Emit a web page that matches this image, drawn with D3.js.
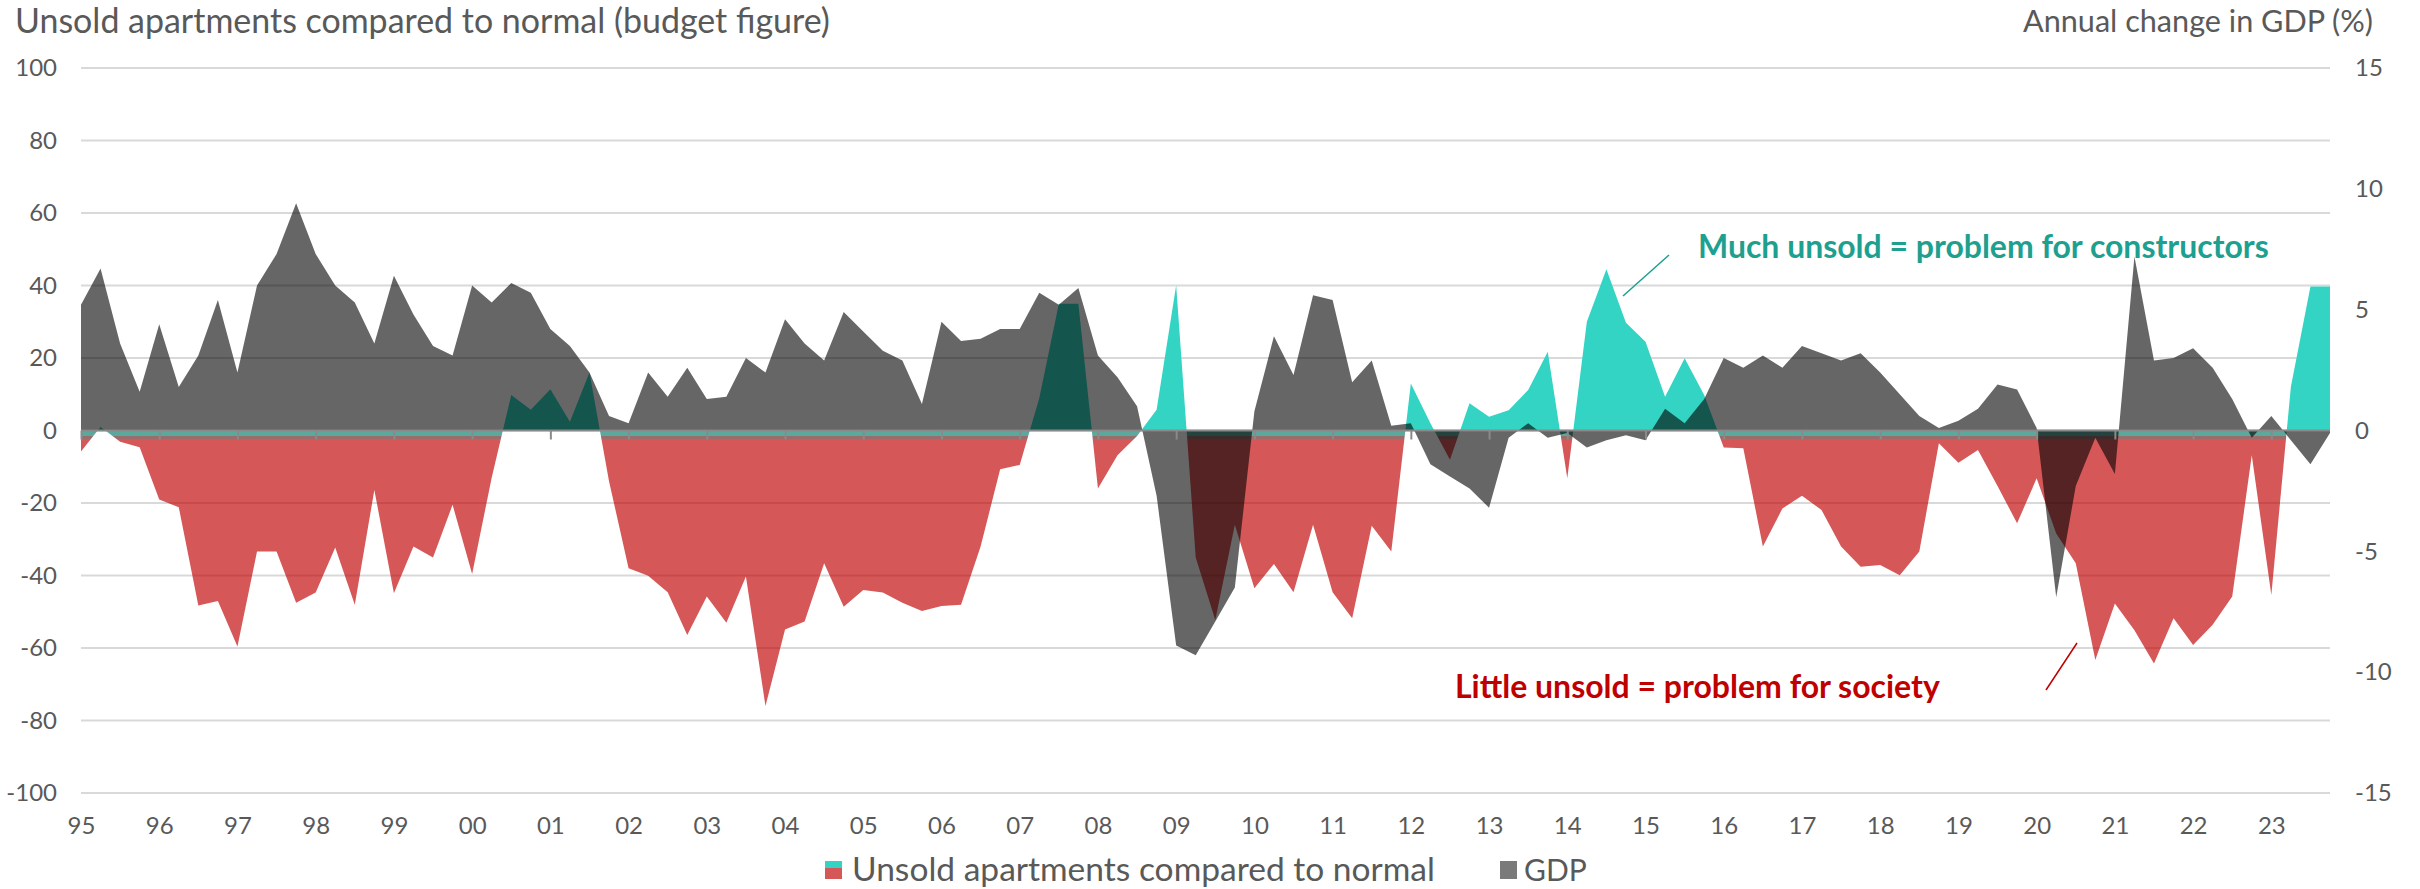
<!DOCTYPE html>
<html>
<head>
<meta charset="utf-8">
<script src="https://cdn.jsdelivr.net/npm/d3@7"></script>
<style>
  body { margin: 0; background: #fff; }
  svg text { font-family: Lato, "Open Sans", sans-serif; }
</style>
</head>
<body>
<svg id="chart" width="2420" height="889"></svg>
<script>
// tick labels for the category axis (one per year, data is quarterly)
const yearLabels = ["95","96","97","98","99","00","01","02","03","04","05","06","07","08","09",
  "10","11","12","13","14","15","16","17","18","19","20","21","22","23"];
const quarters = [];
yearLabels.forEach(y => ["Q1","Q2","Q3","Q4"].forEach(q => quarters.push(y + q)));

// unsold apartments compared to normal (left axis)
const unsold = [
  -5.8, 1, -3.1, -4.6,
  -19, -21.2, -48.3, -47,
  -59.6, -33.4, -33.4, -47.5,
  -44.7, -32.3, -48.1, -16.4,
  -44.9, -32, -35, -20.5,
  -39.6, -13, 9.8, 5.7,
  11.4, 2.4, 16, -14,
  -38, -40.1, -44.6, -56.4,
  -45.8, -53, -40.3, -76,
  -54.9, -52.7, -36.6, -48.6,
  -44, -44.7, -47.5, -49.8,
  -48.4, -48.1, -32, -10.7,
  -9.5, 8.9, 35, 35,
  -16, -6.8, -1.5, 5.7,
  40.1, -35, -52.3, -26,
  -43.5, -36.8, -44.6, -26,
  -44.6, -51.8, -26.3, -33.4,
  13, 2, -8.1, 7.5,
  3.8, 5.6, 11.2, 21.7,
  -13.2, 30, 44.5, 29.7,
  24.5, 9.3, 19.9, 9.8,
  -4.7, -4.9, -32, -21.5,
  -18, -21.9, -32, -37.6,
  -37.1, -39.9, -33.4, -3.5,
  -8.9, -5.4, -15.3, -25.6,
  -13.2, -28.4, -36.6, -63.3,
  -47.7, -55.1, -64.3, -51.8,
  -59.2, -53.6, -45.8, -6.8,
  -45.4, 12.1, 39.7, 39.7
];

// annual change in GDP, % (right axis)
const gdp = [
  5.2, 6.7, 3.6, 1.6,
  4.4, 1.8, 3.1, 5.4,
  2.4, 6.0, 7.3, 9.4,
  7.3, 6.0, 5.3, 3.6,
  6.4, 4.8, 3.5, 3.1,
  6.0, 5.3, 6.1, 5.7,
  4.2, 3.5, 2.4, 0.6,
  0.3, 2.4, 1.4, 2.6,
  1.3, 1.4, 3.0, 2.4,
  4.6, 3.6, 2.9, 4.9,
  4.1, 3.3, 2.9, 1.1,
  4.5, 3.7, 3.8, 4.2,
  4.2, 5.7, 5.2, 5.9,
  3.1, 2.2, 1.0, -2.7,
  -8.9, -9.3, -7.9, -6.5,
  0.8, 3.9, 2.3, 5.6,
  5.4, 2.0, 2.9, 0.2,
  0.3, -1.4, -1.9, -2.4,
  -3.2, -0.3, 0.3, -0.3,
  -0.1, -0.7, -0.4, -0.2,
  -0.4, 0.9, 0.3, 1.3,
  3.0, 2.6, 3.1, 2.6,
  3.5, 3.2, 2.9, 3.2,
  2.4, 1.5, 0.6, 0.1,
  0.4, 0.9, 1.9, 1.7,
  0.1, -6.9, -2.3, -0.3,
  -1.8, 7.2, 2.9, 3.0,
  3.4, 2.6, 1.3, -0.3,
  0.6, -0.4, -1.4, -0.1
];

const leftTicks = [100, 80, 60, 40, 20, 0, -20, -40, -60, -80, -100];
const rightTicks = [15, 10, 5, 0, -5, -10, -15];

const textColor = "#595959";
const cyan = "#33d4c4";

const svg = d3.select("#chart");
const plotLeft = 81, plotRight = 2330, plotTop = 68, plotBottom = 793;

const x = d3.scalePoint().domain(quarters).range([plotLeft, plotRight]);
const yL = d3.scaleLinear().domain([-100, 100]).range([plotBottom, plotTop]);
const yR = d3.scaleLinear().domain([-15, 15]).range([plotBottom, plotTop]);
const zero = yL(0);

const defs = svg.append("defs");
defs.append("clipPath").attr("id", "above")
  .append("rect").attr("x", 0).attr("y", 0).attr("width", 2420).attr("height", zero);
defs.append("clipPath").attr("id", "below")
  .append("rect").attr("x", 0).attr("y", zero).attr("width", 2420).attr("height", 889 - zero);

// red fill with the muted strip just under the zero line
const grad = defs.append("linearGradient").attr("id", "redFill")
  .attr("gradientUnits", "userSpaceOnUse")
  .attr("x1", 0).attr("x2", 0).attr("y1", zero).attr("y2", plotBottom);
const span = plotBottom - zero;
[[0, "#5ba89c", 1], [5.8 / span, "#5ba89c", 1], [5.8 / span, "#9a6d6d", 1],
 [8.6 / span, "#9a6d6d", 1], [8.6 / span, "#c00000", 0.66], [1, "#c00000", 0.66]]
  .forEach(s => grad.append("stop").attr("offset", s[0]).attr("stop-color", s[1]).attr("stop-opacity", s[2]));

// gridlines
svg.append("g").selectAll("line").data(leftTicks).join("line")
  .attr("x1", plotLeft).attr("x2", plotRight)
  .attr("y1", d => yL(d)).attr("y2", d => yL(d))
  .attr("stroke", "#d9d9d9").attr("stroke-width", 2);

const unsoldArea = d3.area()
  .x((d, i) => x(quarters[i]))
  .y0(zero)
  .y1(d => yL(d));

svg.append("path").datum(unsold)
  .attr("d", unsoldArea)
  .attr("clip-path", "url(#above)")
  .attr("fill", cyan);

svg.append("path").datum(unsold)
  .attr("d", unsoldArea)
  .attr("clip-path", "url(#below)")
  .attr("fill", "url(#redFill)");

const gdpArea = d3.area()
  .x((d, i) => x(quarters[i]))
  .y0(yR(0))
  .y1(d => yR(d));

svg.append("path").datum(gdp)
  .attr("d", gdpArea)
  .attr("fill", "#000")
  .attr("fill-opacity", 0.6);

// category axis line + year ticks at zero
const xAxisLine = svg.append("g")
  .attr("transform", `translate(0,${zero})`)
  .call(d3.axisBottom(x)
    .tickValues(quarters.filter(q => q.endsWith("Q1")))
    .tickSize(9).tickFormat(""));
xAxisLine.select(".domain").attr("stroke", "#8a8a8a").attr("stroke-width", 2).attr("d", `M${plotLeft},0H${plotRight}`);
xAxisLine.selectAll(".tick line").attr("stroke", "#8a8a8a").attr("stroke-width", 2);

// year labels at the bottom
const xLabels = svg.append("g")
  .attr("transform", "translate(0,817)")
  .call(d3.axisBottom(x)
    .tickValues(quarters.filter(q => q.endsWith("Q1")))
    .tickSize(0).tickPadding(0)
    .tickFormat(q => q.slice(0, 2)));
xLabels.select(".domain").remove();
xLabels.selectAll("text").attr("font-size", 24).attr("fill", textColor).style("font-family", "Lato, sans-serif");

// left axis
const yAxisL = svg.append("g")
  .attr("transform", "translate(57,0)")
  .call(d3.axisLeft(yL).tickValues(leftTicks).tickSize(0).tickPadding(0).tickFormat(d => String(d)));
yAxisL.select(".domain").remove();
yAxisL.selectAll("text").attr("font-size", 24).attr("fill", textColor).style("font-family", "Lato, sans-serif");

// right axis
const yAxisR = svg.append("g")
  .attr("transform", "translate(2355,0)")
  .call(d3.axisRight(yR).tickValues(rightTicks).tickSize(0).tickPadding(0).tickFormat(d => String(d)));
yAxisR.select(".domain").remove();
yAxisR.selectAll("text").attr("font-size", 24).attr("fill", textColor).style("font-family", "Lato, sans-serif");

// scale a text's font size so it spans the given width
function fitWidth(sel, w) {
  const len = sel.node().getComputedTextLength();
  const fs = parseFloat(sel.attr("font-size"));
  sel.attr("font-size", (fs * w / len).toFixed(2));
}

fitWidth(svg.append("text")
  .attr("x", 15).attr("y", 33)
  .attr("font-size", 28).attr("fill", textColor)
  .text("Unsold apartments compared to normal (budget figure)"), 815);

fitWidth(svg.append("text")
  .attr("x", 2373).attr("y", 32).attr("text-anchor", "end")
  .attr("font-size", 28).attr("fill", textColor)
  .text("Annual change in GDP (%)"), 350);

// annotations
fitWidth(svg.append("text")
  .attr("x", 1698).attr("y", 258)
  .attr("font-size", 28).attr("font-weight", 700).attr("fill", "#1da08f")
  .text("Much unsold = problem for constructors"), 571);
svg.append("line")
  .attr("x1", 1669).attr("y1", 255).attr("x2", 1623).attr("y2", 296)
  .attr("stroke", "#1da08f").attr("stroke-width", 1.5);

fitWidth(svg.append("text")
  .attr("x", 1455).attr("y", 698)
  .attr("font-size", 28).attr("font-weight", 700).attr("fill", "#c00000")
  .text("Little unsold = problem for society"), 485);
svg.append("line")
  .attr("x1", 2077).attr("y1", 643).attr("x2", 2046).attr("y2", 690)
  .attr("stroke", "#c00000").attr("stroke-width", 1.5);

// legend (kept just inside the bottom edge)
const legend = svg.append("g");
legend.append("rect").attr("x", 825).attr("y", 861).attr("width", 17).attr("height", 7).attr("fill", cyan);
legend.append("rect").attr("x", 825).attr("y", 868).attr("width", 17).attr("height", 11)
  .attr("fill", "#c00000").attr("fill-opacity", 0.66);
fitWidth(legend.append("text")
  .attr("x", 852).attr("y", 881)
  .attr("font-size", 30).attr("fill", textColor)
  .text("Unsold apartments compared to normal"), 583);
legend.append("rect").attr("x", 1500).attr("y", 861).attr("width", 17).attr("height", 18)
  .attr("fill", "#000").attr("fill-opacity", 0.52);
legend.append("text")
  .attr("x", 1524).attr("y", 881)
  .attr("font-size", 30).attr("fill", textColor)
  .text("GDP");
</script>
</body>
</html>
